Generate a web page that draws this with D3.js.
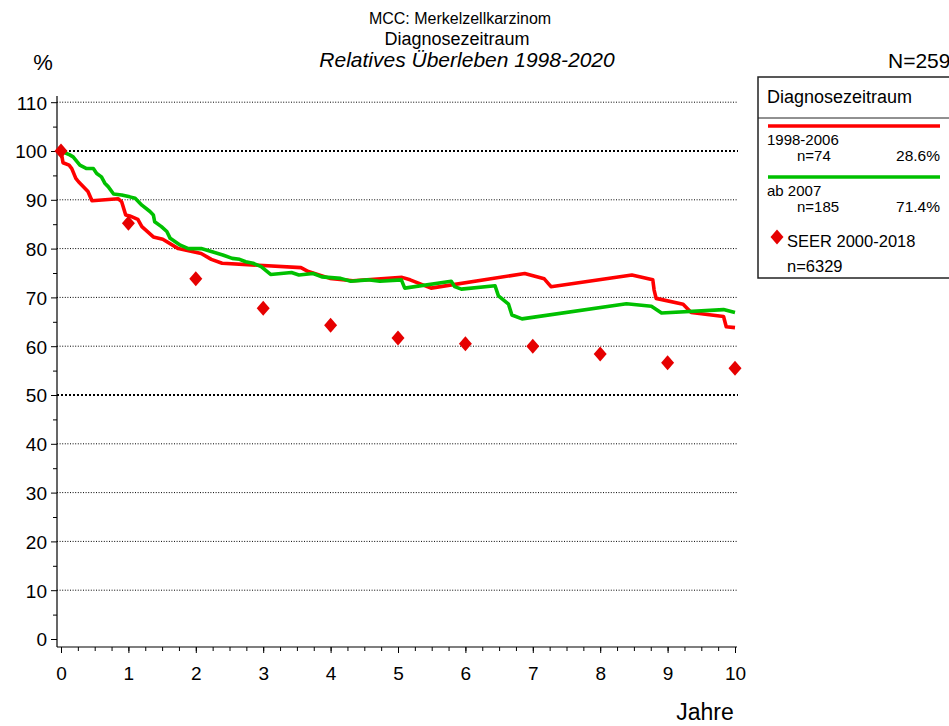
<!DOCTYPE html>
<html>
<head>
<meta charset="utf-8">
<script src="https://cdn.jsdelivr.net/npm/d3@7"></script>
<style>
body { margin: 0; background: #fff; }
svg { font-family: "Liberation Sans", Arial, sans-serif; }
</style>
</head>
<body>
<svg id="chart" width="949" height="726"></svg>
<script>
// Kaplan-Meier style curves (years, relative survival %)
var redYears = [0, 0.03, 0.12, 0.16, 0.22, 0.26, 0.40, 0.46, 0.85, 0.90, 0.96, 1.02, 1.14, 1.20, 1.37, 1.51, 1.74, 2.08, 2.23, 2.39, 3.56, 3.67, 3.99, 4.33, 5.06, 5.18, 5.49, 6.88, 7.17, 7.27, 8.47, 8.78, 8.80, 8.83, 9.23, 9.35, 9.83, 9.87, 10];
var redVals  = [100, 97.6, 97.1, 96.4, 94.4, 93.7, 91.7, 89.8, 90.2, 89.6, 86.9, 86.7, 86.0, 84.5, 82.4, 81.9, 80.0, 79.0, 77.8, 77.0, 76.1, 75.3, 73.9, 73.4, 74.1, 73.6, 71.9, 74.9, 73.8, 72.2, 74.6, 73.6, 71.5, 69.8, 68.6, 66.9, 66.1, 64.0, 63.8];

var greenYears = [0, 0.13, 0.18, 0.28, 0.38, 0.48, 0.53, 0.60, 0.65, 0.70, 0.78, 0.90, 1.02, 1.10, 1.20, 1.32, 1.37, 1.39, 1.49, 1.57, 1.62, 1.77, 1.89, 2.08, 2.23, 2.40, 2.54, 2.65, 2.74, 2.85, 2.97, 3.11, 3.42, 3.53, 3.74, 3.87, 4.15, 4.30, 4.55, 4.73, 5.05, 5.10, 5.79, 5.84, 5.94, 6.44, 6.49, 6.64, 6.69, 6.84, 8.39, 8.76, 8.91, 9.83, 10];
var greenVals  = [100, 99.2, 98.8, 97.1, 96.4, 96.4, 95.4, 94.7, 93.4, 92.7, 91.2, 91.0, 90.6, 90.3, 88.9, 87.6, 86.9, 85.5, 84.5, 83.5, 82.1, 80.7, 80.0, 80.0, 79.4, 78.7, 78.0, 77.8, 77.3, 77.0, 76.3, 74.7, 75.1, 74.6, 74.9, 74.2, 73.9, 73.3, 73.6, 73.3, 73.6, 71.9, 73.3, 72.2, 71.7, 72.4, 70.3, 68.6, 66.4, 65.6, 68.7, 68.2, 66.8, 67.5, 66.9];

// SEER reference points
var seerYears = [0, 1, 2, 3, 4, 5, 6, 7, 8, 9, 10];
var seerVals  = [100, 85.2, 73.8, 67.8, 64.3, 61.7, 60.5, 60.0, 58.4, 56.6, 55.5];

var yTicks = [0, 10, 20, 30, 40, 50, 60, 70, 80, 90, 100, 110];
var xTicks = [0, 1, 2, 3, 4, 5, 6, 7, 8, 9, 10];

var legendTitle = "Diagnosezeitraum";
var groups = ["1998-2006", "ab 2007"];
var groupN = ["n=74", "n=185"];
var groupPct = ["28.6%", "71.4%"];

var svg = d3.select("#chart");

var x = d3.scaleLinear().domain([0, 10]).range([61, 735]);
var y = d3.scaleLinear().domain([0, 110]).range([639, 102.2]);

// grid
svg.append("g").selectAll("line")
    .data(yTicks.filter(function (d) { return d > 0; }))
    .enter().append("line")
    .attr("x1", 57).attr("x2", 738)
    .attr("y1", function (d) { return y(d); })
    .attr("y2", function (d) { return y(d); })
    .style("stroke", "#000")
    .style("stroke-width", function (d) { return (d == 50 || d == 100) ? 2 : 1; })
    .style("stroke-dasharray", function (d) { return (d == 50 || d == 100) ? "2,2" : "1,1.6"; });

// y axis
var yAxis = svg.append("g").attr("transform", "translate(57,0)")
    .call(d3.axisLeft(y).tickValues(yTicks).tickSize(6).tickPadding(4));
yAxis.select(".domain").remove();
yAxis.selectAll("text").style("font-size", "19px").style("font-family", "Liberation Sans, Arial, sans-serif").attr("dy", "0.36em");
svg.append("g").attr("transform", "translate(57,0)")
    .call(d3.axisLeft(y).tickValues(d3.range(5, 110, 10)).tickSize(4).tickFormat(""))
    .select(".domain").remove();
svg.append("line").attr("x1", 57).attr("x2", 57).attr("y1", 96).attr("y2", 647)
    .style("stroke", "#000").style("stroke-width", 1.2);

// x axis
var xAxis = svg.append("g").attr("transform", "translate(0,647)")
    .call(d3.axisBottom(x).tickValues(xTicks).tickSize(6).tickPadding(14));
xAxis.select(".domain").remove();
xAxis.selectAll("text").style("font-size", "19px").style("font-family", "Liberation Sans, Arial, sans-serif");
svg.append("g").attr("transform", "translate(0,647)")
    .call(d3.axisBottom(x).tickValues(d3.range(0, 40).map(function (i) { return i / 4; })).tickSize(4).tickFormat(""))
    .select(".domain").remove();
svg.append("line").attr("x1", 57).attr("x2", 737).attr("y1", 647).attr("y2", 647)
    .style("stroke", "#000").style("stroke-width", 1.2);

// curves
var line = d3.line()
    .x(function (d) { return x(d[0]); })
    .y(function (d) { return y(d[1]); });

svg.append("path")
    .attr("d", line(d3.zip(redYears, redVals)))
    .attr("fill", "none").attr("stroke", "#ff0000").attr("stroke-width", 3.6)
    .attr("stroke-linejoin", "round");
svg.append("path")
    .attr("d", line(d3.zip(greenYears, greenVals)))
    .attr("fill", "none").attr("stroke", "#00c000").attr("stroke-width", 3.6)
    .attr("stroke-linejoin", "round");

function diamond(cx, cy) {
    return "M" + cx + "," + (cy - 7.5) + " L" + (cx + 6.5) + "," + cy + " L" + cx + "," + (cy + 7.5) + " L" + (cx - 6.5) + "," + cy + " Z";
}
svg.append("g").selectAll("path")
    .data(d3.zip(seerYears, seerVals))
    .enter().append("path")
    .attr("d", function (d) { return diamond(x(d[0]), y(d[1])); })
    .attr("fill", "#e60000");

// titles
svg.append("text").attr("x", 460).attr("y", 24).attr("text-anchor", "middle")
    .style("font-size", "16px").text("MCC: Merkelzellkarzinom");
svg.append("text").attr("x", 457).attr("y", 45).attr("text-anchor", "middle")
    .style("font-size", "18px").text("Diagnosezeitraum");
svg.append("text").attr("x", 467).attr("y", 67).attr("text-anchor", "middle")
    .style("font-size", "21px").style("font-style", "italic").text("Relatives Überleben 1998-2020");
svg.append("text").attr("x", 43).attr("y", 70).attr("text-anchor", "middle")
    .style("font-size", "22px").text("%");
svg.append("text").attr("x", 888).attr("y", 68)
    .style("font-size", "21px").text("N=259");
svg.append("text").attr("x", 705).attr("y", 720).attr("text-anchor", "middle")
    .style("font-size", "23px").text("Jahre");

// legend
var leg = svg.append("g");
leg.append("rect").attr("x", 758).attr("y", 77).attr("width", 200).attr("height", 201)
    .attr("fill", "none").attr("stroke", "#222").attr("stroke-width", 1.5);
leg.append("line").attr("x1", 758).attr("x2", 949).attr("y1", 118).attr("y2", 118)
    .attr("stroke", "#222").attr("stroke-width", 1);
leg.append("text").attr("x", 767).attr("y", 103).style("font-size", "18px").text(legendTitle);

var legColors = ["#ff0000", "#00c000"];
groups.forEach(function (g, i) {
    var top = 126 + i * 51;
    leg.append("line").attr("x1", 768).attr("x2", 940).attr("y1", top).attr("y2", top)
        .attr("stroke", legColors[i]).attr("stroke-width", 3.6);
    leg.append("text").attr("x", 767).attr("y", top + 19).style("font-size", "15px").text(g);
    leg.append("text").attr("x", 797).attr("y", top + 35).style("font-size", "15px").text(groupN[i]);
    leg.append("text").attr("x", 940).attr("y", top + 35).attr("text-anchor", "end")
        .style("font-size", "15.5px").text(groupPct[i]);
});
leg.append("path").attr("d", diamond(777, 237)).attr("fill", "#e60000");
leg.append("text").attr("x", 787).attr("y", 247).style("font-size", "16.5px").text("SEER 2000-2018");
leg.append("text").attr("x", 787).attr("y", 272).style("font-size", "16.5px").text("n=6329");
</script>
</body>
</html>
